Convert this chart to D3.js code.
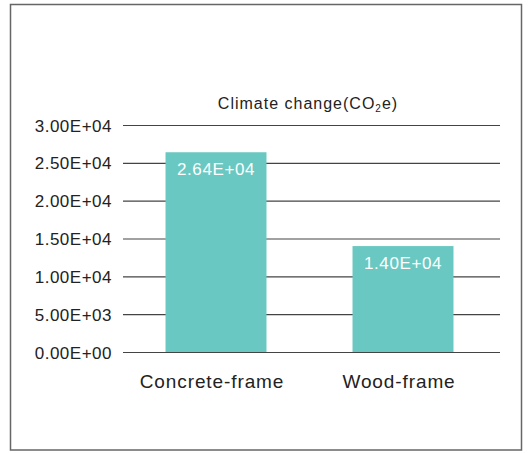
<!DOCTYPE html>
<html>
<head>
<meta charset="utf-8">
<script src="https://cdn.jsdelivr.net/npm/d3@7/dist/d3.min.js"></script>
<style>
  html, body { margin: 0; padding: 0; background: #fff; }
  svg { display: block; }
  text { font-family: "Liberation Sans", Arial, sans-serif; fill: #222; }
</style>
</head>
<body>
<svg id="chart" width="529" height="453"></svg>
<script>
// Chart data
const categories = ["Concrete-frame", "Wood-frame"];
const values = [26400, 14000];
const valueLabels = ["2.64E+04", "1.40E+04"];
const tickValues = [0, 5000, 10000, 15000, 20000, 25000, 30000];
const tickLabels = ["0.00E+00", "5.00E+03", "1.00E+04", "1.50E+04", "2.00E+04", "2.50E+04", "3.00E+04"];

const svg = d3.select("#chart");

// Outer frame
svg.append("rect")
  .attr("x", 10.5).attr("y", 4.5)
  .attr("width", 511).attr("height", 445.5)
  .attr("fill", "#fff")
  .attr("stroke", "#666")
  .attr("stroke-width", 1.5);

const plot = { left: 123, right: 500, top: 125, bottom: 352 };

const x = d3.scaleBand()
  .domain(categories)
  .range([122.5, 496.5])
  .paddingInner(0.46)
  .paddingOuter(0.23);

const y = d3.scaleLinear()
  .domain([0, 30000])
  .range([plot.bottom, plot.top]);

// Horizontal gridlines with tick labels
const yAxis = d3.axisLeft(y)
  .tickValues(tickValues)
  .tickSize(-(plot.right - plot.left))
  .tickPadding(11)
  .tickFormat((d, i) => tickLabels[i]);

const gy = svg.append("g")
  .attr("transform", `translate(${plot.left},0)`)
  .call(yAxis);
gy.select(".domain").remove();
gy.selectAll(".tick line")
  .attr("stroke", "#444")
  .attr("stroke-width", 1.2);
gy.selectAll(".tick text")
  .attr("font-size", 17)
  .attr("letter-spacing", 0.5)
  .attr("fill", "#222")
  .attr("dy", "0.36em")
  .style("font-family", "'Liberation Sans', Arial, sans-serif");

// Bars
svg.append("g").selectAll("rect")
  .data(values)
  .join("rect")
  .attr("x", (d, i) => x(categories[i]))
  .attr("y", d => y(d))
  .attr("width", x.bandwidth())
  .attr("height", d => y(0) - y(d))
  .attr("fill", "#6AC8C2");

// Value labels inside bars
svg.append("g").selectAll("text")
  .data(values)
  .join("text")
  .attr("x", (d, i) => x(categories[i]) + x.bandwidth() / 2)
  .attr("y", d => y(d) + 23)
  .attr("text-anchor", "middle")
  .attr("font-size", 17)
  .attr("letter-spacing", 0.6)
  .style("fill", "#fff")
  .text((d, i) => valueLabels[i]);

// Category labels
svg.append("g").selectAll("text")
  .data(categories)
  .join("text")
  .attr("x", d => x(d) + x.bandwidth() / 2 - 4)
  .attr("y", 388)
  .attr("text-anchor", "middle")
  .attr("font-size", 19)
  .attr("letter-spacing", 0.9)
  .text(d => d);

// Title
const title = svg.append("text")
  .attr("x", 308)
  .attr("y", 109)
  .attr("text-anchor", "middle")
  .attr("font-size", 16)
  .attr("letter-spacing", 1);
title.append("tspan").text("Climate change(CO");
title.append("tspan").attr("font-size", 10).attr("dy", 3).text("2");
title.append("tspan").attr("dy", -3).text("e)");
</script>
</body>
</html>
